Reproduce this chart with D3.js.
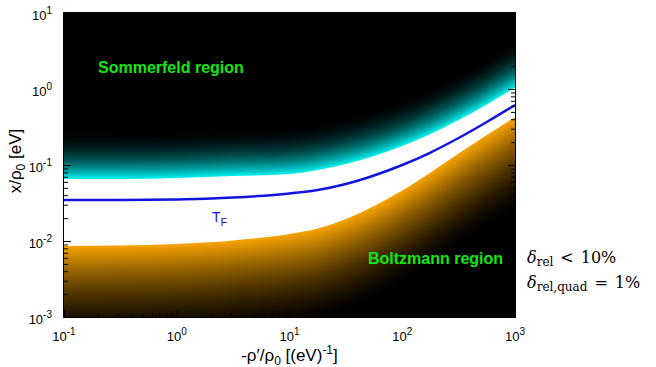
<!DOCTYPE html>
<html>
<head>
<meta charset="utf-8">
<script src="https://cdn.jsdelivr.net/npm/d3@7"></script>
<style>
  body { margin: 0; background: #fff; }
  svg { display: block; }
</style>
</head>
<body>
<div id="chart"></div>
<script>
// -rho'/rho0 sample points
const xValues = [0.1, 0.316, 1, 3.16, 10, 17.8, 31.6, 56.2, 100, 178, 316, 562, 1000];
// Fermi temperature curve (blue)
const tF = [0.0346, 0.0347, 0.0352, 0.0373, 0.0422, 0.0469, 0.0562, 0.0728, 0.100, 0.146, 0.2265, 0.368, 0.616];
// lower edge of the Sommerfeld (cyan) region
const sommerfeldEdge = [0.0655, 0.0655, 0.0675, 0.0716, 0.0760, 0.0859, 0.103, 0.131, 0.178, 0.256, 0.391, 0.625, 1.047];
// upper edge of the Boltzmann (orange) region
const boltzmannEdge = [0.00859, 0.00873, 0.00914, 0.01016, 0.01236, 0.0146, 0.01948, 0.0289, 0.0462, 0.0797, 0.1416, 0.248, 0.428];

const xTicks = [0.1, 1, 10, 100, 1000];
const yTicks = [0.001, 0.01, 0.1, 1, 10];

const W = 656, H = 367;
const margin = { top: 13, right: 141, bottom: 50, left: 64 };
const width = W - margin.left - margin.right;
const height = H - margin.top - margin.bottom;

const svg = d3.select('#chart').append('svg')
    .attr('width', W)
    .attr('height', H)
    .style('font-family', '"Liberation Sans", Arial, sans-serif');

const g = svg.append('g')
    .attr('transform', 'translate(' + margin.left + ',' + margin.top + ')');

const x = d3.scaleLog().domain([0.1, 1000]).range([0, width]);
const y = d3.scaleLog().domain([0.001, 10]).range([height, 0]);

g.append('clipPath').attr('id', 'plotClip')
  .append('rect').attr('width', width).attr('height', height);

const plot = g.append('g').attr('clip-path', 'url(#plotClip)');

// the gap between the regions is white
plot.append('rect').attr('width', width).attr('height', height).attr('fill', '#fff');

const idx = d3.range(xValues.length);

// Sommerfeld region: cyan at the edge, fading to black upwards
// (each layer is smaller than the one before, so draw nearest first)
const cyanFade = 50;
d3.range(0, cyanFade + 1).forEach(d => {
  const f = Math.pow(1 - d / cyanFade, 2.2);
  const c = Math.round(235 * f);
  const area = d3.area()
      .x(i => x(xValues[i]))
      .y0(-5)
      .y1(i => y(sommerfeldEdge[i]) - d)
      .curve(d3.curveMonotoneX);
  plot.append('path').datum(idx)
      .attr('d', area)
      .attr('fill', `rgb(0,${c},${c})`);
});

// Boltzmann region: orange at the edge, fading to black downwards
const orangeFade = 95;
d3.range(0, orangeFade + 1).forEach(d => {
  const f = Math.pow(1 - d / orangeFade, 1.6);
  const area = d3.area()
      .x(i => x(xValues[i]))
      .y0(i => y(boltzmannEdge[i]) + d)
      .y1(height + 5)
      .curve(d3.curveMonotoneX);
  plot.append('path').datum(idx)
      .attr('d', area)
      .attr('fill', `rgb(${Math.round(245 * f)},${Math.round(162 * f)},0)`);
});

// T_F line
plot.append('path').datum(idx)
    .attr('d', d3.line().x(i => x(xValues[i])).y(i => y(tF[i])).curve(d3.curveMonotoneX))
    .attr('fill', 'none')
    .attr('stroke', 'rgb(20,20,225)')
    .attr('stroke-width', 2.5);

// minor tick values
const minor = (lo, hi) => {
  const out = [];
  for (let e = lo; e < hi; e++) for (let m = 2; m <= 9; m++) out.push(m * Math.pow(10, e));
  return out;
};
const xMinor = minor(-1, 3);
const yMinor = minor(-3, 1);

const strip = s => s.select('.domain').remove();

// ticks point inwards on all four sides
g.append('g').call(d3.axisLeft(y).tickValues(yTicks).tickSize(-7).tickFormat('')).call(strip);
g.append('g').call(d3.axisLeft(y).tickValues(yMinor).tickSize(-4).tickFormat('')).call(strip);
g.append('g').attr('transform', 'translate(' + width + ',0)')
    .call(d3.axisRight(y).tickValues(yTicks).tickSize(-7).tickFormat('')).call(strip);
g.append('g').attr('transform', 'translate(' + width + ',0)')
    .call(d3.axisRight(y).tickValues(yMinor).tickSize(-4).tickFormat('')).call(strip);
g.append('g').attr('transform', 'translate(0,' + height + ')')
    .call(d3.axisBottom(x).tickValues(xTicks).tickSize(-7).tickFormat('')).call(strip);
g.append('g').attr('transform', 'translate(0,' + height + ')')
    .call(d3.axisBottom(x).tickValues(xMinor).tickSize(-4).tickFormat('')).call(strip);
g.append('g')
    .call(d3.axisTop(x).tickValues(xTicks).tickSize(-7).tickFormat('')).call(strip);
g.append('g')
    .call(d3.axisTop(x).tickValues(xMinor).tickSize(-4).tickFormat('')).call(strip);

g.append('rect')
    .attr('x', -0.5).attr('y', -0.5)
    .attr('width', width + 1).attr('height', height + 1)
    .attr('fill', 'none').attr('stroke', '#000');

// power-of-ten tick labels
function powLabel(sel, v) {
  const e = Math.round(Math.log10(v));
  sel.append('tspan').text('10');
  sel.append('tspan').attr('dy', -6).attr('font-size', 10).text(e);
}

g.selectAll('.ylab').data(yTicks).join('text')
    .attr('class', 'ylab')
    .attr('x', -12)
    .attr('y', d => y(d) + 7)
    .attr('text-anchor', 'end')
    .attr('font-size', 13)
    .each(function (d) { powLabel(d3.select(this), d); });

g.selectAll('.xlab').data(xTicks).join('text')
    .attr('class', 'xlab')
    .attr('x', d => x(d))
    .attr('y', height + 24)
    .attr('text-anchor', 'middle')
    .attr('font-size', 13)
    .each(function (d) { powLabel(d3.select(this), d); });

// axis titles
const xt = g.append('text')
    .attr('x', width / 2).attr('y', height + 44)
    .attr('text-anchor', 'middle').attr('font-size', 17);
xt.append('tspan').text('-ρ\u2032/ρ');
xt.append('tspan').attr('dy', 4).attr('font-size', 12).text('0');
xt.append('tspan').attr('dy', -4).text(' [(eV)');
xt.append('tspan').attr('dy', -7).attr('font-size', 12).text('-1');
xt.append('tspan').attr('dy', 7).text(']');

const yt = svg.append('text')
    .attr('transform', 'translate(21,' + (margin.top + 148) + ') rotate(-90)')
    .attr('text-anchor', 'middle').attr('font-size', 17);
yt.append('tspan').text('x/ρ');
yt.append('tspan').attr('dy', 4).attr('font-size', 12).text('0');
yt.append('tspan').attr('dy', -4).text(' [eV]');

// region labels
g.append('text')
    .attr('x', 98 - margin.left).attr('y', 73 - margin.top)
    .attr('font-size', 16).attr('font-weight', 'bold')
    .attr('fill', 'rgb(20,230,20)')
    .text('Sommerfeld region');
g.append('text')
    .attr('x', 368 - margin.left).attr('y', 264 - margin.top)
    .attr('font-size', 16).attr('font-weight', 'bold')
    .attr('fill', 'rgb(20,230,20)')
    .text('Boltzmann region');

const tfl = g.append('text')
    .attr('x', 212 - margin.left).attr('y', 222 - margin.top)
    .attr('font-size', 14).attr('fill', 'rgb(20,20,225)');
tfl.append('tspan').text('T');
tfl.append('tspan').attr('dy', 4).attr('font-size', 11).text('F');

// accuracy notes on the right
const notes = [
  { sub: 'rel', op: '<', val: '10%' },
  { sub: 'rel,quad', op: '=', val: '1%' }
];
svg.selectAll('.note').data(notes).join('text')
    .attr('class', 'note')
    .attr('x', 527)
    .attr('y', (d, i) => 263 + i * 25)
    .attr('font-family', '"DejaVu Serif", "Liberation Serif", serif')
    .attr('font-size', 16)
    .each(function (d) {
      const t = d3.select(this);
      t.append('tspan').attr('font-style', 'italic').text('δ');
      t.append('tspan').attr('dy', 3).attr('font-size', 12).text(d.sub);
      t.append('tspan').attr('dy', -3).attr('dx', 7).text(d.op);
      t.append('tspan').attr('dx', 7).text(d.val);
    });
</script>
</body>
</html>
